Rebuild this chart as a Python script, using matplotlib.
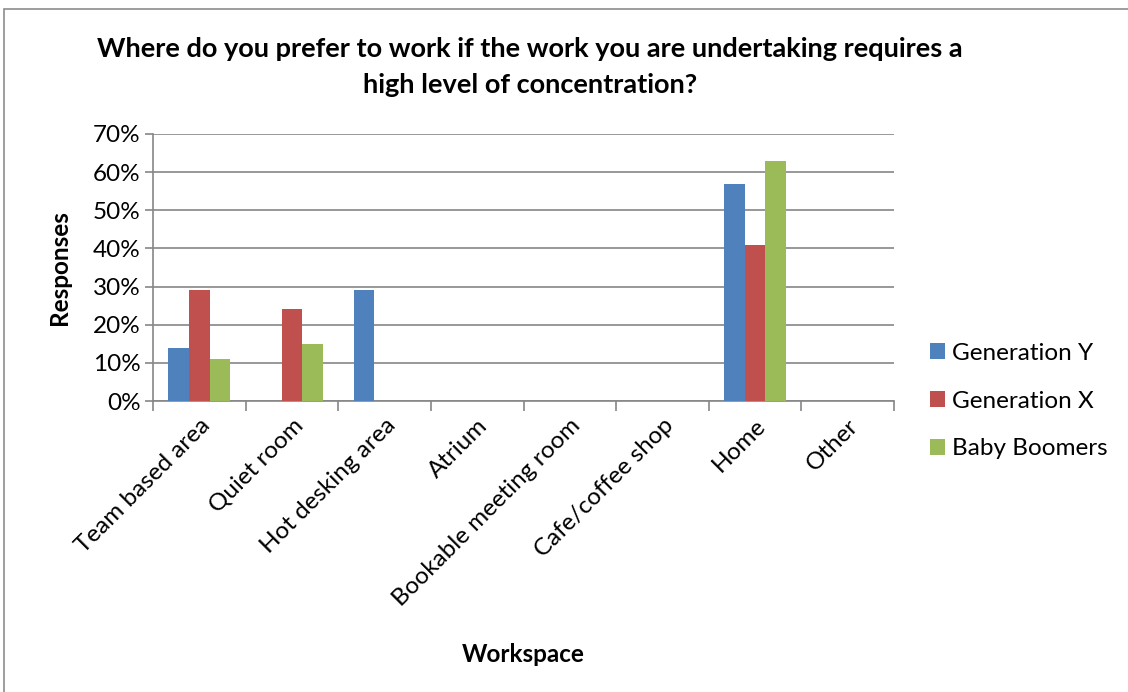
import matplotlib
matplotlib.use("Agg")
import matplotlib.pyplot as plt
import matplotlib.patches as mpatches
from matplotlib.ticker import FuncFormatter, FixedLocator
import numpy as np

plt.rcParams['font.family'] = ['Lato', 'DejaVu Sans']

categories = ["Team based area", "Quiet room", "Hot desking area", "Atrium",
              "Bookable meeting room", "Cafe/coffee shop", "Home", "Other"]
gen_y = [14, 0, 29, 0, 0, 0, 57, 0]
gen_x = [29, 24, 0, 0, 0, 0, 41, 0]
boomers = [11, 15, 0, 0, 0, 0, 63, 0]
series_names = ["Generation Y", "Generation X", "Baby Boomers"]
colors = ["#4f81bd", "#c0504d", "#9bbb59"]

fig = plt.figure(figsize=(11.28, 6.92), dpi=100)
ax = fig.add_axes([153 / 1128, 1 - 401 / 692, (894 - 153) / 1128, (401 - 134) / 692])

# outer chart border (only top and left visible)
fig.patches.append(mpatches.Rectangle((4 / 1128, -0.1), 1.2, 1 - 9 / 692 + 0.1,
                                      transform=fig.transFigure, fill=False,
                                      edgecolor="#8c8c8c", linewidth=1.2))

x = np.arange(len(categories))
bw = 1 / 4.5
for i, (vals, name, col) in enumerate(zip([gen_y, gen_x, boomers], series_names, colors)):
    ax.bar(x + (i - 1) * bw, vals, bw, color=col, label=name, zorder=3)

ax.set_xlim(-0.5, len(categories) - 0.5)
ax.set_ylim(0, 70)
ax.set_yticks(np.arange(0, 71, 10))
ax.yaxis.set_major_formatter(FuncFormatter(lambda v, p: f"{int(v)}%"))
ax.grid(axis="y", color="#868686", linewidth=1.2, zorder=0)
for s in ["top", "right"]:
    ax.spines[s].set_visible(False)
for s in ["left", "bottom"]:
    ax.spines[s].set_color("#868686")
    ax.spines[s].set_linewidth(1.2)

ax.set_xticks(x)
ax.set_xticklabels(categories, rotation=45, ha="right", rotation_mode="anchor", fontsize=17.5)
ax.tick_params(axis="x", length=0, pad=10)
ax.xaxis.set_minor_locator(FixedLocator(np.arange(-0.5, len(categories), 1)))
ax.tick_params(axis="x", which="minor", length=7, color="#868686", width=1.2)
ax.tick_params(axis="y", length=6, color="#868686", width=1.2, labelsize=17.5, pad=3)

ax.set_ylabel("Responses", fontsize=17.5, fontweight="bold")
ax.yaxis.set_label_coords(-0.111, 0.5)
ax.set_xlabel("Workspace", fontsize=17.5, fontweight="bold", labelpad=24)

fig.text(530 / 1128, 1 - 67 / 692,
         "Where do you prefer to work if the work you are undertaking requires a\nhigh level of concentration?",
         ha="center", va="center", fontsize=19.5, fontweight="bold", linespacing=1.6)

ax.legend(loc="center left", bbox_to_anchor=(1.035, 0.0), frameon=False, fontsize=17.5,
          handlelength=0.62, handleheight=0.62, labelspacing=1.1, handletextpad=0.3,
          borderaxespad=0)

fig.savefig("out.png", dpi=100)
